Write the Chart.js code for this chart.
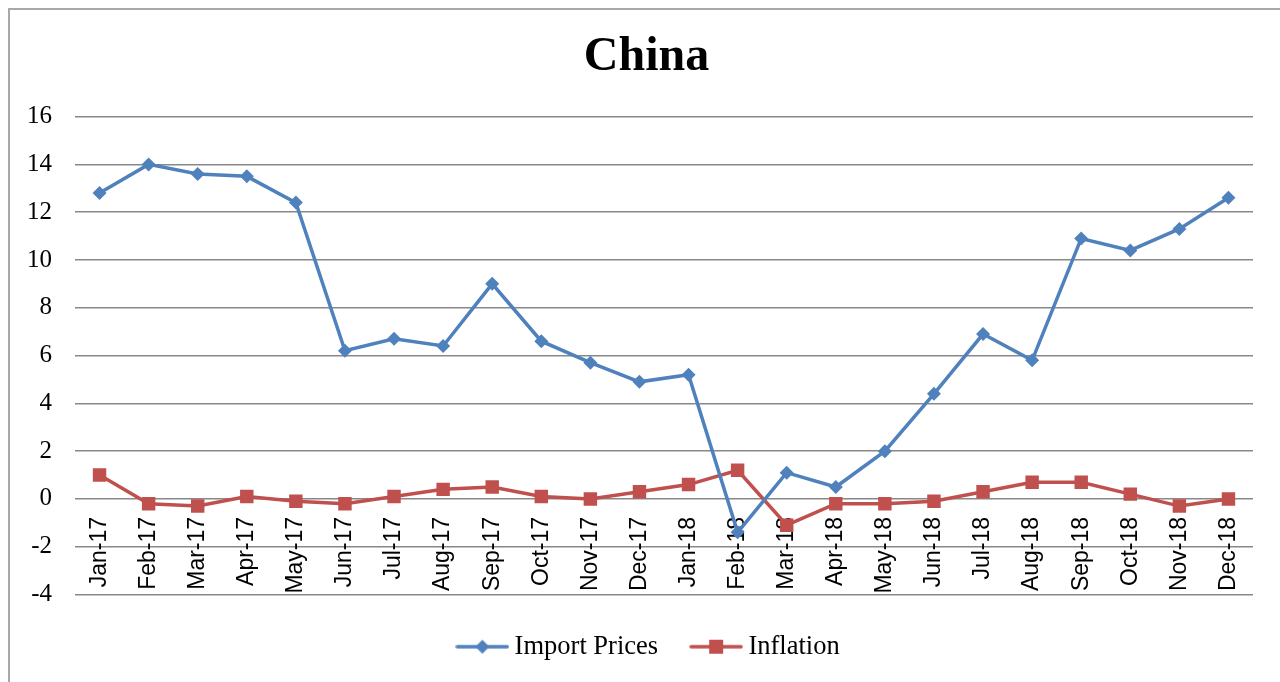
<!DOCTYPE html>
<html>
<head>
<meta charset="utf-8">
<title>China</title>
<script src="https://cdn.jsdelivr.net/npm/chart.js@4.4.1/dist/chart.umd.min.js"></script>
<style>
  html, body { margin: 0; padding: 0; background: #fff; overflow: hidden; }
  #wrap { position: relative; width: 1280px; height: 682px; }
  #frame {
    position: absolute; left: 8px; top: 8px;
    width: 1400px; height: 800px;
    border: 2px solid #a8a8a8;
  }
  #chart { position: absolute; left: 0; top: 0; }
</style>
</head>
<body>
<div id="wrap">
  <div id="frame"></div>
  <canvas id="chart" width="1280" height="682"></canvas>
</div>
<script>
  // data
  const months = [
    "Jan-17", "Feb-17", "Mar-17", "Apr-17", "May-17", "Jun-17",
    "Jul-17", "Aug-17", "Sep-17", "Oct-17", "Nov-17", "Dec-17",
    "Jan-18", "Feb-18", "Mar-18", "Apr-18", "May-18", "Jun-18",
    "Jul-18", "Aug-18", "Sep-18", "Oct-18", "Nov-18", "Dec-18"
  ];
  const importPrices = [
    12.8, 14.0, 13.6, 13.5, 12.4, 6.2, 6.7, 6.4, 9.0, 6.6, 5.7, 4.9,
    5.2, -1.4, 1.1, 0.5, 2.0, 4.4, 6.9, 5.8, 10.9, 10.4, 11.3, 12.6
  ];
  const inflation = [
    1.0, -0.2, -0.3, 0.1, -0.1, -0.2, 0.1, 0.4, 0.5, 0.1, 0.0, 0.3,
    0.6, 1.2, -1.1, -0.2, -0.2, -0.1, 0.3, 0.7, 0.7, 0.2, -0.3, 0.0
  ];
  const yMin = -4, yMax = 16, yStep = 2;

  const blue = '#4F81BD';
  const red = '#C0504D';

  // legend marker: short line with the point shape on it
  function makeMarker(color, shape) {
    const c = document.createElement('canvas');
    c.width = 54;
    c.height = 18;
    const g = c.getContext('2d');
    g.strokeStyle = color;
    g.lineWidth = 3.5;
    g.lineCap = 'round';
    g.beginPath();
    g.moveTo(2, 9);
    g.lineTo(52, 9);
    g.stroke();
    g.fillStyle = color;
    g.beginPath();
    if (shape === 'diamond') {
      g.moveTo(27, 2); g.lineTo(34, 9); g.lineTo(27, 16); g.lineTo(20, 9);
    } else {
      g.rect(20, 2, 14, 14);
    }
    g.closePath();
    g.fill();
    return c;
  }
  const markers = [makeMarker(blue, 'diamond'), makeMarker(red, 'square')];

  // title and legend are centred on the frame, not on the whole canvas
  const centerShift = {
    id: 'centerShift',
    afterLayout(ch) {
      if (ch.titleBlock) ch.titleBlock.left = 40;
      if (ch.legend) ch.legend.left = 50;
    }
  };

  const ctx = document.getElementById('chart').getContext('2d');
  const chart = new Chart(ctx, {
    type: 'line',
    data: {
      labels: months,
      datasets: [{
        label: 'Import Prices',
        data: importPrices,
        borderColor: blue,
        backgroundColor: blue,
        borderWidth: 3.5,
        pointStyle: 'rectRot',
        pointRadius: 7,
        pointBorderWidth: 0,
        tension: 0
      }, {
        label: 'Inflation',
        data: inflation,
        borderColor: red,
        backgroundColor: red,
        borderWidth: 3.5,
        pointStyle: 'rect',
        pointRadius: 9.5,
        pointBorderWidth: 0,
        tension: 0
      }]
    },
    options: {
      responsive: false,
      animation: false,
      layout: { padding: { left: 0, right: 27, top: 0, bottom: 12 } },
      plugins: {
        title: {
          display: true,
          text: 'China',
          color: '#000',
          font: { family: "'Liberation Serif', 'Times New Roman', serif", size: 48, weight: 'bold' },
          padding: { top: 29, bottom: 30 }
        },
        legend: {
          position: 'bottom',
          labels: {
            color: '#000',
            font: { family: "'Liberation Serif', 'Times New Roman', serif", size: 26.5 },
            usePointStyle: true,
            pointStyleWidth: 38,
            padding: 39,
            generateLabels: function(ch) {
              const items = Chart.defaults.plugins.legend.labels.generateLabels(ch);
              items.forEach((it, i) => { it.pointStyle = markers[i]; });
              return items;
            }
          }
        },
        tooltip: { enabled: false }
      },
      scales: {
        x: {
          position: { y: 0 },
          offset: true,
          grid: { display: false },
          border: { display: false },
          ticks: {
            color: '#000',
            font: { family: "'Liberation Sans', Arial, sans-serif", size: 23 },
            minRotation: 90,
            maxRotation: 90,
            autoSkip: false,
            padding: 10
          }
        },
        y: {
          min: yMin,
          max: yMax,
          afterFit: function(scale) { scale.width = 75; },
          grid: { color: '#888', lineWidth: 1.5, drawTicks: false },
          border: { display: false },
          ticks: {
            stepSize: yStep,
            color: '#000',
            font: { family: "'Liberation Serif', 'Times New Roman', serif", size: 25 },
            padding: 23
          }
        }
      }
    },
    plugins: [centerShift]
  });
</script>
</body>
</html>
